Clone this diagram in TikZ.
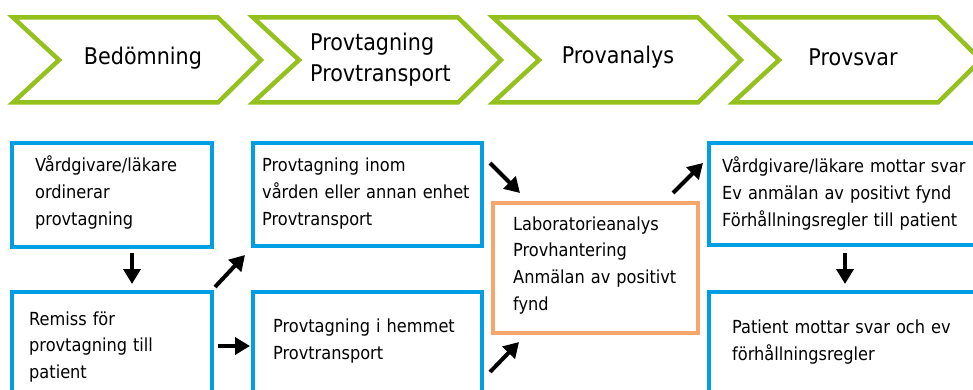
\documentclass[tikz,border=0pt]{standalone}
\usepackage{fontspec}
\setmainfont{DejaVu Sans Condensed}
\usetikzlibrary{arrows.meta}

\definecolor{chevgreen}{HTML}{95C11F}
\definecolor{boxblue}{HTML}{009FE3}
\definecolor{laborange}{HTML}{F9A66B}

\tikzset{
    chevron/.style={line width=4.5pt, draw=chevgreen, fill=white},
    stepbox/.style={draw=boxblue, line width=4pt, rectangle, inner sep=0pt},
    labbox/.style={draw=laborange, line width=4pt, rectangle, inner sep=0pt},
    boxtext/.style={font=\fontsize{18}{26.8}\selectfont, text width=280pt, align=left, inner sep=0pt, anchor=base west},
    headtext/.style={font=\fontsize{23}{31}\selectfont, inner sep=0pt},
    flow/.style={line width=4pt, -{Triangle[length=15pt, width=17pt]}}
}

\begin{document}
\begin{tikzpicture}[x=1pt, y=-1pt]
        \useasboundingbox (0, 0) rectangle (973, 390);
        \clip (0, 0) rectangle (973, 390);

        % Chevrons along the top
        \foreach \l in {13, 253, 493, 733}
            \draw[chevron] (\l, 17.5) -- (\l+205, 17.5) -- (\l+248, 60) -- (\l+205, 102.5) -- (\l, 102.5) -- (\l+46, 60) -- cycle;

        \node[headtext, anchor=base] (c1) at (143, 65) {Bedömning};
        \node[headtext, anchor=base west, text width=200pt, align=left] (c2) at (310, 50.7) {Provtagning\\ Provtransport};
        \node[headtext, anchor=base] (c3) at (618, 63.3) {Provanalys};
        \node[headtext, anchor=base] (c4) at (853, 65.7) {Provsvar};

        % Boxes
        \node[stepbox, minimum width=200pt, minimum height=104pt] (b1) at (112, 195) {};
        \node[stepbox, minimum width=200pt, minimum height=104pt] (b2) at (112, 344) {};
        \node[stepbox, minimum width=229pt, minimum height=103pt] (b3) at (367.5, 194.5) {};
        \node[stepbox, minimum width=229pt, minimum height=104pt] (b4) at (367.5, 344) {};
        \node[labbox, minimum width=205pt, minimum height=130pt] (lab) at (595.5, 268) {};
        \node[stepbox, minimum width=272pt, minimum height=102pt] (b5) at (845, 194) {};
        \node[stepbox, minimum width=272pt, minimum height=104pt] (b6) at (845, 344) {};

        % Texts in the boxes
        \node[boxtext] (t1) at (35, 171.7) {Vårdgivare/läkare\\ ordinerar\\ provtagning};
        \node[boxtext] (t2) at (29, 325) {Remiss för\\ provtagning till\\ patient};
        \node[boxtext] (t3) at (262, 171.7) {Provtagning inom\\ vården eller annan enhet\\ Provtransport};
        \node[boxtext] (t4) at (273, 332.7) {Provtagning i hemmet\\ Provtransport};
        \node[boxtext] (t5) at (513, 230) {Laboratorieanalys\\ Provhantering\\ Anmälan av positivt\\ fynd};
        \node[boxtext] (t6) at (722, 172.7) {Vårdgivare/läkare mottar svar\\ Ev anmälan av positivt fynd\\ Förhållningsregler till patient};
        \node[boxtext] (t7) at (732, 333.3) {Patient mottar svar och ev\\ förhållningsregler};

        % Arrows between the boxes
        \draw[flow] ([shift={(20, 4)}]b1.south) -- ([shift={(20, -6)}]b2.north);
        \draw[flow] ([shift={(1, -3)}]b2.north east) -- ([shift={(-6, 7)}]b3.south west);
        \draw[flow] ([shift={(4, 2)}]b2.east) -- ([shift={(-1, 2)}]b4.west);
        \draw[flow] ([shift={(6, 22)}]b3.north east) -- ([shift={(29, -8)}]lab.north west);
        \draw[flow] ([shift={(6, 82)}]b4.north east) -- ([shift={(28, 7)}]lab.south west);
        \draw[flow] ([shift={(-27, -8)}]lab.north east) -- ([shift={(-4, 22)}]b5.north west);
        \draw[flow] ([shift={(0, 6)}]b5.south) -- ([shift={(0, -6)}]b6.north);
\end{tikzpicture}
\end{document}
